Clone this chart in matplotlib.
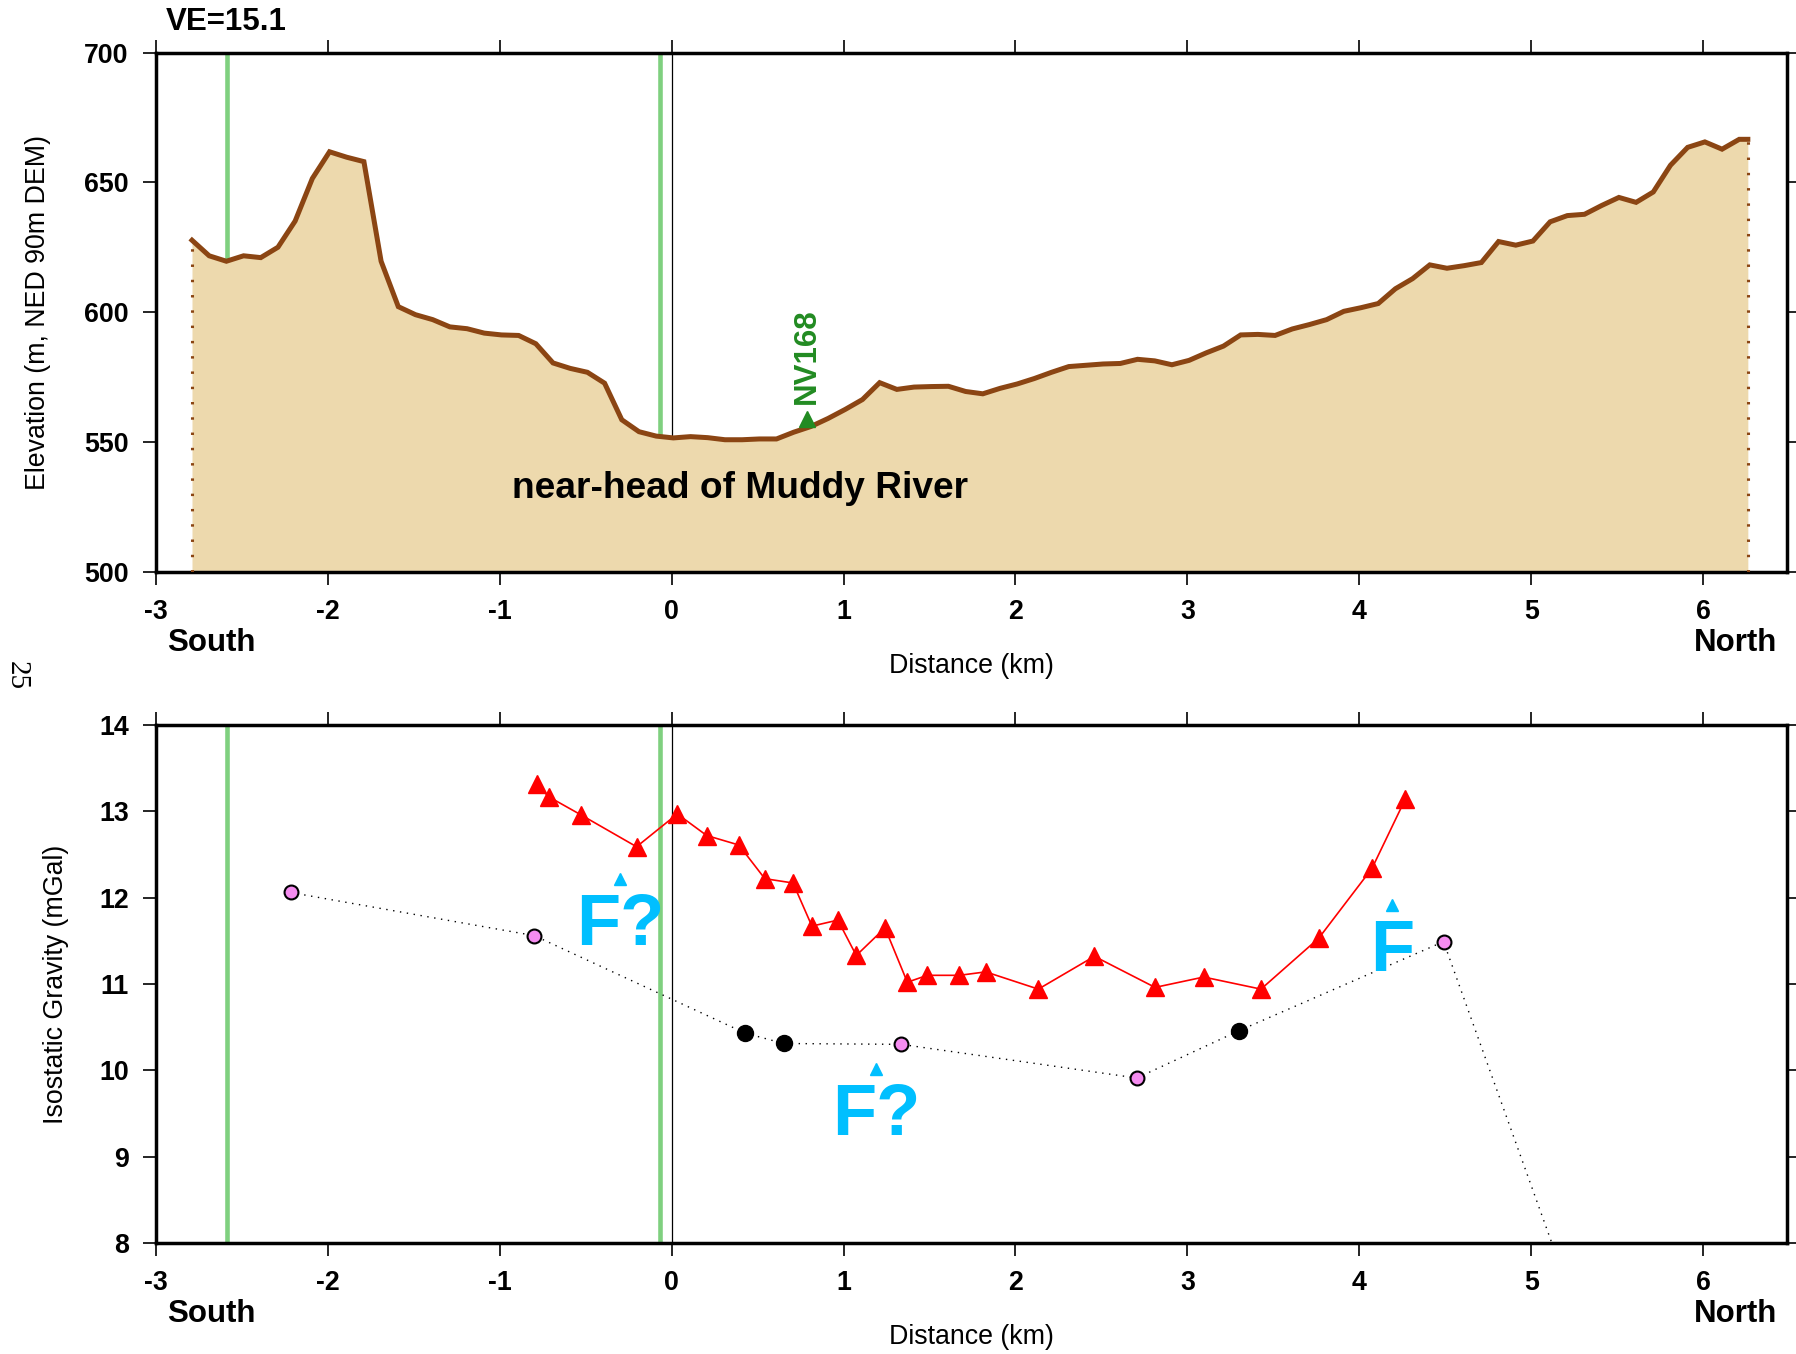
import numpy as np
import matplotlib
matplotlib.use('Agg')
import matplotlib.pyplot as plt

plt.rcParams['font.family'] = ['Liberation Sans', 'DejaVu Sans']
plt.rcParams['axes.unicode_minus'] = False

# topographic profile along the section line (distance km, elevation m)
dist_km = [-2.79, -2.69, -2.59, -2.49, -2.39, -2.29, -2.19, -2.09, -1.99, -1.89,
           -1.79, -1.69, -1.59, -1.49, -1.39, -1.29, -1.19, -1.09, -0.99, -0.89,
           -0.79, -0.69, -0.59, -0.49, -0.39, -0.29, -0.19, -0.09, 0.01, 0.11,
           0.21, 0.31, 0.41, 0.51, 0.61, 0.71, 0.81, 0.91, 1.01, 1.11,
           1.21, 1.31, 1.41, 1.51, 1.61, 1.71, 1.81, 1.91, 2.01, 2.11,
           2.21, 2.31, 2.41, 2.51, 2.61, 2.71, 2.81, 2.91, 3.01, 3.11,
           3.21, 3.31, 3.41, 3.51, 3.61, 3.71, 3.81, 3.91, 4.01, 4.11,
           4.21, 4.31, 4.41, 4.51, 4.61, 4.71, 4.81, 4.91, 5.01, 5.11,
           5.21, 5.31, 5.41, 5.51, 5.61, 5.71, 5.81, 5.91, 6.01, 6.11,
           6.21, 6.26]
elev_m = [627.7, 621.7, 619.6, 621.7, 621.0, 625.0, 635.1, 651.5, 661.8, 659.7,
          658.0, 619.6, 602.1, 599.0, 597.1, 594.3, 593.6, 591.9, 591.2, 591.0,
          587.8, 580.4, 578.3, 576.8, 572.6, 558.5, 553.9, 552.2, 551.5, 552.0,
          551.6, 550.8, 550.8, 551.1, 551.1, 553.7, 555.9, 559.0, 562.5, 566.3,
          572.8, 570.2, 571.1, 571.3, 571.4, 569.4, 568.5, 570.6, 572.3, 574.4,
          576.8, 579.0, 579.5, 580.0, 580.2, 581.8, 581.2, 579.7, 581.4, 584.3,
          586.9, 591.2, 591.4, 591.0, 593.5, 595.2, 597.1, 600.3, 601.7, 603.3,
          609.0, 612.9, 618.2, 616.9, 617.9, 619.1, 627.2, 625.8, 627.4, 634.8,
          637.2, 637.7, 641.1, 644.2, 642.3, 646.3, 656.6, 663.5, 665.6, 662.8,
          666.6, 666.6]

# mapped boundaries shown as green lines on both panels
boundary_km = [-2.587, -0.067]

# well / station on the profile
station_km = 0.785
station_elev = 558.8
station_name = 'NV168'

# isostatic gravity, red triangles
tri_km = [-0.786, -0.716, -0.528, -0.204, 0.033, 0.204, 0.391, 0.542, 0.706, 0.816,
          0.967, 1.074, 1.241, 1.371, 1.487, 1.674, 1.827, 2.133, 2.459, 2.812,
          3.095, 3.428, 3.764, 4.074, 4.267]
tri_mgal = [13.32, 13.17, 12.96, 12.59, 12.97, 12.72, 12.61, 12.22, 12.17, 11.67,
            11.74, 11.33, 11.65, 11.02, 11.10, 11.10, 11.14, 10.94, 11.32, 10.96,
            11.08, 10.94, 11.53, 12.34, 13.14]

# isostatic gravity, circles (filled black vs pink)
circ_km = [-2.217, -0.799, 0.428, 0.652, 1.336, 2.706, 3.302, 4.490, 5.30]
circ_mgal = [12.06, 11.56, 10.43, 10.31, 10.30, 9.91, 10.46, 11.49, 7.00]
circ_black = [False, False, True, True, False, False, True, False, False]

# interpreted faults
fault_km = [-0.30, 1.19, 4.19]
fault_mgal = [12.22, 10.02, 11.92]
fault_text = ['F?', 'F?', 'F']

brown = '#8B4513'
tan = '#EDD9AD'
lgreen = '#7FD07F'
cyan = '#00BFFF'

fig = plt.figure(figsize=(17.96, 13.54), dpi=100)
ax1 = fig.add_axes([0.0868, 0.5779, 0.9084, 0.3832])
ax2 = fig.add_axes([0.0868, 0.0821, 0.9084, 0.3824])


def style_axes(ax):
    for s in ax.spines.values():
        s.set_linewidth(2.5)
    ax.tick_params(direction='out', length=9.5, width=1.2, top=True, right=True,
                   labelsize=19.3, pad=10)
    for lab in ax.get_xticklabels() + ax.get_yticklabels():
        lab.set_fontweight('bold')
    ax.text(0.0066, -0.137, 'South', transform=ax.transAxes, ha='left',
            va='center', fontsize=22.5, fontweight='bold')
    ax.text(0.9936, -0.137, 'North', transform=ax.transAxes, ha='right',
            va='center', fontsize=22.5, fontweight='bold')
    ax.text(0.5, -0.182, 'Distance (km)', transform=ax.transAxes, ha='center',
            va='center', fontsize=19.3)


# ---- elevation profile ----
ax1.set_xlim(-3, 6.49)
ax1.set_ylim(500, 700)
ax1.set_xticks(range(-3, 7))
ax1.set_yticks([500, 550, 600, 650, 700])
for b in boundary_km:
    ax1.axvline(b, color=lgreen, lw=3.3, zorder=1)
ax1.axvline(0, color='black', lw=0.9, zorder=1)
ax1.fill_between(dist_km, elev_m, 500, color=tan, lw=0, zorder=2)
ax1.plot(dist_km, elev_m, color=brown, lw=3.6, zorder=3, solid_joinstyle='miter')
ax1.vlines([dist_km[0], dist_km[-1]], 500, [elev_m[0], elev_m[-1]],
           colors=brown, lw=2.2, linestyles=(0, (0.8, 4.2)), zorder=3)
ax1.plot([station_km], [station_elev], '^', color='#228B22', ms=12, zorder=4)
ax1.annotate(station_name, (station_km, station_elev), xytext=(0, 11),
             textcoords='offset points', rotation=90, ha='center', va='bottom',
             color='#228B22', fontsize=22.5, fontweight='bold')
ax1.text(0.40, 528.5, 'near-head of Muddy River', ha='center', va='baseline',
         fontsize=26.7, fontweight='bold', zorder=5)
ax1.text(0.006, 1.059, 'VE=15.1', transform=ax1.transAxes, ha='left',
         va='center', fontsize=22.5, fontweight='bold')
ax1.set_ylabel('Elevation (m, NED 90m DEM)', fontsize=19.3)
ax1.yaxis.set_label_coords(-0.064, 0.5)
style_axes(ax1)

# ---- gravity profile ----
ax2.set_xlim(-3, 6.49)
ax2.set_ylim(8, 14)
ax2.set_xticks(range(-3, 7))
ax2.set_yticks(range(8, 15))
for b in boundary_km:
    ax2.axvline(b, color=lgreen, lw=3.3, zorder=1)
ax2.axvline(0, color='black', lw=0.9, zorder=1)

ax2.plot(circ_km, circ_mgal, color='black', lw=1.0, linestyle=(0, (1, 4)), zorder=2)
ck = np.array(circ_km)
cg = np.array(circ_mgal)
blk = np.array(circ_black)
ax2.plot(ck[~blk], cg[~blk], 'o', ms=10, mfc='#F58CF0', mec='black', mew=1.5,
         ls='none', zorder=3)
ax2.plot(ck[blk], cg[blk], 'o', ms=11.5, mfc='black', mec='black',
         ls='none', zorder=3)

ax2.plot(tri_km, tri_mgal, color='red', lw=1.2, marker='^', ms=13, zorder=4)

ax2.plot(fault_km, fault_mgal, '^', color=cyan, ms=9, ls='none', zorder=5)
for fx, fy, ft in zip(fault_km, fault_mgal, fault_text):
    ax2.annotate(ft, (fx, fy), xytext=(0, -48), textcoords='offset points',
                 ha='center', va='baseline', color=cyan, fontsize=52,
                 fontweight='bold', zorder=5)

ax2.set_ylabel('Isostatic Gravity (mGal)', fontsize=19.3)
ax2.yaxis.set_label_coords(-0.0535, 0.5)
style_axes(ax2)

# page number in the margin
fig.text(17 / 1796, 1 - 676 / 1354, '25', rotation=-90, ha='center', va='center',
         fontsize=21, family='Liberation Serif')

fig.savefig('out.png', dpi=100)
